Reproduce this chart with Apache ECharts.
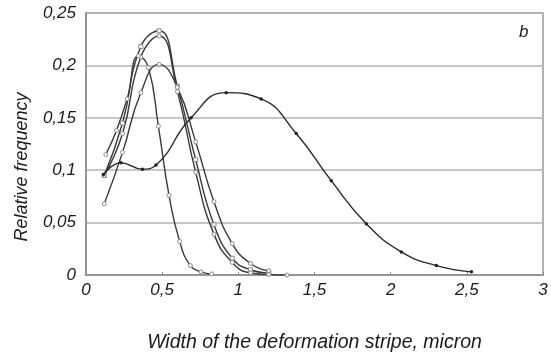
<!DOCTYPE html>
<html><head><meta charset="utf-8">
<script src="https://cdn.jsdelivr.net/npm/echarts@6/dist/echarts.min.js"></script>
<style>html,body{margin:0;padding:0;background:#fff}#c{width:551px;height:355px}</style>
</head><body><div id="c"></div>
<script>
var xTicks = ['0','0,5','1','1,5','2','2,5','3'];
var yTicks = ['0','0,05','0,1','0,15','0,2','0,25'];

var xS1 = [0.12,0.24,0.36,0.48,0.60,0.72,0.84,0.96,1.08,1.20];
var yS1 = [0.095,0.145,0.218,0.233,0.180,0.110,0.048,0.016,0.005,0.002];

var xS2 = [0.12,0.24,0.36,0.48,0.60,0.72,0.84,0.96,1.08,1.20,1.32];
var yS2 = [0.095,0.135,0.208,0.228,0.175,0.098,0.039,0.012,0.002,0.0005,0];

var xS3 = [0.13,0.20,0.27,0.345,0.41,0.475,0.545,0.615,0.685,0.755,0.825];
var yS3 = [0.115,0.138,0.168,0.209,0.198,0.142,0.076,0.032,0.009,0.003,0.001];

var xS4 = [0.12,0.24,0.36,0.48,0.60,0.72,0.84,0.96,1.08,1.20];
var yS4 = [0.068,0.117,0.174,0.201,0.179,0.127,0.070,0.030,0.011,0.004];

var xS5 = [0.115,0.23,0.37,0.46,0.69,0.92,1.15,1.38,1.61,1.84,2.07,2.30,2.53];
var yS5 = [0.096,0.107,0.101,0.105,0.150,0.174,0.168,0.135,0.090,0.049,0.022,0.009,0.003];

function pairs(xs, ys){ return xs.map(function(x,i){return [x, ys[i]];}); }

var chart = echarts.init(document.getElementById('c'), null, {renderer:'canvas'});
var font = 'Liberation Sans, Arial, sans-serif';
function grey(name, xs, ys, sym){
  return {name:name, type:'line', data:pairs(xs,ys), smooth:0.5,
    symbol: sym||'circle', symbolSize:4,
    lineStyle:{color:'#3a3a3a', width:1.4},
    itemStyle:{color:'#fff', borderColor:'#888', borderWidth:1},
    emphasis:{disabled:true}, z:3};
}
chart.setOption({
  animation:false,
  grid:{left:86, right:8, top:13, bottom:80, containLabel:false, outerBoundsMode:'none', show:true, borderColor:'#9a9a9a', borderWidth:1.5, backgroundColor:'transparent'},
  xAxis:{type:'value', min:0, max:3, interval:0.5,
    name:'Width of the deformation stripe, micron', nameLocation:'middle', nameGap:58,
    nameTextStyle:{fontFamily:font, fontStyle:'italic', fontSize:19.5, color:'#1a1a1a'},
    axisLine:{show:true, lineStyle:{color:'#8a8a8a', width:1.5}},
    axisTick:{show:true, inside:true, length:3, lineStyle:{color:'#8a8a8a'}},
    splitLine:{show:false},
    axisLabel:{fontFamily:font, fontStyle:'italic', fontSize:17, color:'#1a1a1a', margin:7,
      formatter:function(v){ return xTicks[Math.round(v/0.5)]; }}
  },
  yAxis:{type:'value', min:0, max:0.25, interval:0.05,
    axisLine:{show:true, lineStyle:{color:'#8a8a8a', width:1.5}},
    axisTick:{show:false},
    splitLine:{show:true, lineStyle:{color:'#b4b4b4', width:1.6}},
    axisLabel:{fontFamily:font, fontStyle:'italic', fontSize:17, color:'#1a1a1a', margin:10,
      formatter:function(v){ return yTicks[Math.round(v/0.05)]; }}
  },
  graphic:[
    {type:'text', left:519, top:24, style:{text:'b', font:'italic 17px Liberation Sans, Arial, sans-serif', fill:'#1a1a1a'}},
    {type:'text', x:22, y:167, rotation:Math.PI/2, style:{text:'Relative frequency', font:'italic 18px Liberation Sans, Arial, sans-serif', fill:'#1a1a1a', align:'center', verticalAlign:'middle'}}
  ],
  series:[
    grey('s1', xS1, yS1, 'rect'),
    grey('s2', xS2, yS2, 'circle'),
    grey('s3', xS3, yS3, 'circle'),
    grey('s4', xS4, yS4, 'circle'),
    {name:'s5', type:'line', data:pairs(xS5,yS5), smooth:0.5, symbol:'circle', symbolSize:3.5,
      lineStyle:{color:'#2a2a2a', width:1.4}, itemStyle:{color:'#222'}, emphasis:{disabled:true}, z:4}
  ]
});
</script></body></html>
